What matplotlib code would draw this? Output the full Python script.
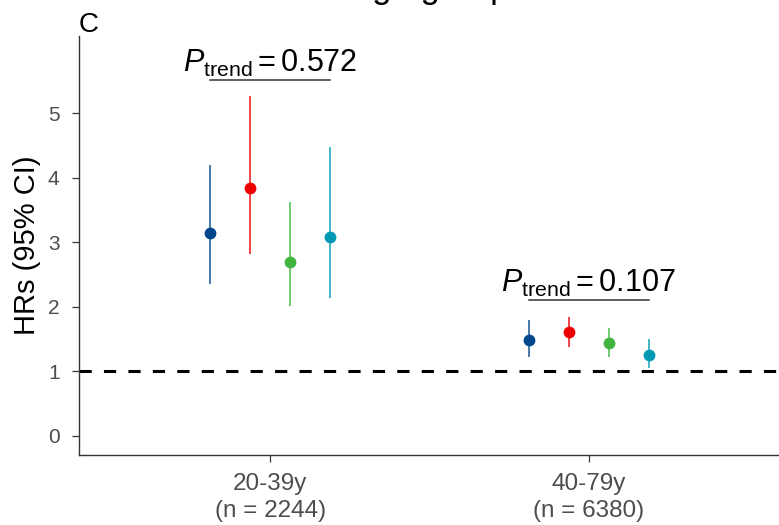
import matplotlib
matplotlib.use("Agg")
import matplotlib.pyplot as plt
import numpy as np

plt.rcParams['font.family'] = ['Liberation Sans', 'DejaVu Sans']
plt.rcParams['mathtext.fontset'] = 'custom'
plt.rcParams['mathtext.rm'] = 'Liberation Sans'
plt.rcParams['mathtext.it'] = 'Liberation Sans:italic'
plt.rcParams['mathtext.bf'] = 'Liberation Sans:bold'

# ---- data ----
groups = ["20-39y\n(n = 2244)", "40-79y\n(n = 6380)"]
series_colors = ["#00468B", "#ED0000", "#42B540", "#0099B4"]
hr = [[3.14, 3.85, 2.69, 3.09],
      [1.49, 1.61, 1.44, 1.26]]
ci_low = [[2.36, 2.82, 2.01, 2.14],
          [1.23, 1.38, 1.23, 1.06]]
ci_high = [[4.20, 5.27, 3.63, 4.48],
           [1.79, 1.85, 1.67, 1.50]]
p_trend = ["0.572", "0.107"]
yticks = [0, 1, 2, 3, 4, 5]
title_text = "Age group"
panel_label = "C"

fig = plt.figure(figsize=(7.79, 5.25), dpi=100)
ax = fig.add_axes([79/779, 70/525, 701/779, 419/525])

dodge = 0.5
n = len(series_colors)
offsets = (np.arange(n) - (n - 1) / 2) * dodge / n

for gi, g in enumerate(groups):
    xc = gi + 1
    xs = xc + offsets
    for si in range(n):
        ax.plot([xs[si], xs[si]], [ci_low[gi][si], ci_high[gi][si]],
                color=series_colors[si], lw=1.2, alpha=0.85, solid_capstyle='butt', zorder=2)
        ax.plot(xs[si], hr[gi][si], 'o', color=series_colors[si], ms=8.5,
                mec='none', zorder=3)
    yb = max(ci_high[gi]) + 0.25
    ax.plot([xs[0], xs[-1]], [yb, yb], color="#333333", lw=1.1, zorder=2)
    ax.annotate(r"$P_{\mathrm{trend}} = %s$" % p_trend[gi], xy=(xc, yb),
                xytext=(0, 6), textcoords='offset points',
                ha='center', va='baseline', fontsize=22, color='black')

ax.axhline(1, color='black', lw=2.2, linestyle=(0, (4, 4)), zorder=1)

ax.set_xlim(0.4, 2.6)
ax.set_ylim(-0.295, 6.2)
ax.set_xticks([1, 2])
ax.set_xticklabels(groups, fontsize=17.5, color='#4D4D4D', linespacing=1.3)
ax.set_yticks(yticks)
ax.set_yticklabels([str(v) for v in yticks], fontsize=15, color='#4D4D4D')
ax.tick_params(axis='both', length=5, width=0.9, color='#333333', direction='out')
ax.tick_params(axis='y', pad=9)
ax.tick_params(axis='x', pad=8)

for s in ['top', 'right']:
    ax.spines[s].set_visible(False)
for s in ['left', 'bottom']:
    ax.spines[s].set_color('#333333')
    ax.spines[s].set_linewidth(1.0)

ax.set_ylabel("HRs (95% CI)", fontsize=21, color='black', labelpad=5)

fig.text(79/779, 1 - 12/525, panel_label, fontsize=20, ha='left', va='top', color='black')
fig.text(429.5/779, 1 + 2.4/525, title_text, fontsize=25, ha='center', va='baseline', color='black')

fig.savefig("out.png", dpi=100)
